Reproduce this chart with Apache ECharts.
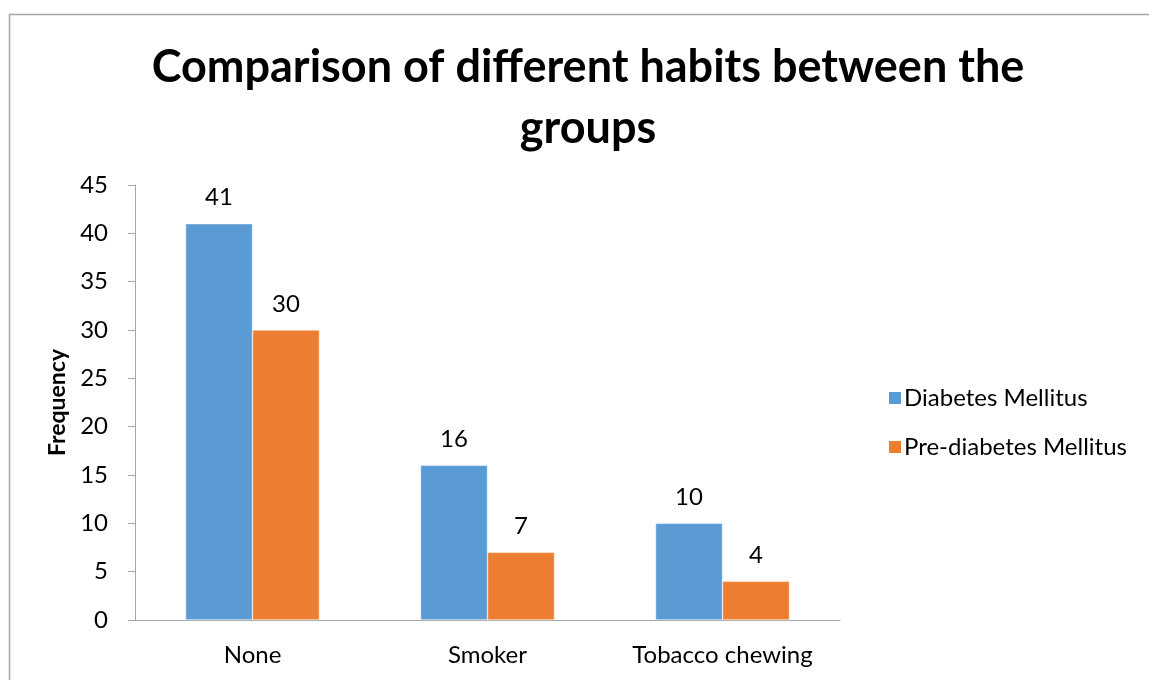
<!DOCTYPE html>
<html><head><meta charset="utf-8">
<script src="https://cdn.jsdelivr.net/npm/echarts@6/dist/echarts.min.js"></script>
<style>html,body{margin:0;padding:0;background:#fff}#c{width:1149px;height:680px}</style>
</head><body><div id="c"></div>
<script>
const categories = ['None', 'Smoker', 'Tobacco chewing'];
const diabetes = [41, 16, 10];
const prediabetes = [30, 7, 4];
const seriesNames = ['Diabetes Mellitus', 'Pre-diabetes Mellitus'];
const titleText = 'Comparison of different habits between the\ngroups';
const yAxisName = 'Frequency';

const FONT = 'Lato, "Open Sans", sans-serif';
const chart = echarts.init(document.getElementById('c'));
chart.setOption({
  animation: false,
  backgroundColor: '#fff',
  graphic: [{
    type: 'rect', shape: {x: 9.5, y: 14.5, width: 1160, height: 700},
    style: {fill: 'none', stroke: '#a6a6a6', lineWidth: 1.5}, silent: true
  }],
  title: {
    text: titleText, left: 583, top: 32, textAlign: 'center',
    textStyle: {fontFamily: FONT, fontWeight: 'bold', fontSize: 45, lineHeight: 61, color: '#000'}
  },
  legend: {
    orient: 'vertical', left: 882, top: 381, itemWidth: 14, itemHeight: 14, itemGap: 25,
    icon: 'rect',
    textStyle: {fontFamily: FONT, fontSize: 24, color: '#000', padding: [0, 0, 0, -3]},
    data: seriesNames
  },
  grid: {left: 135, right: 309, top: 185, bottom: 60},
  xAxis: {
    type: 'category', data: categories,
    axisLine: {lineStyle: {color: '#a6a6a6', width: 1}},
    axisTick: {show: false},
    axisLabel: {fontFamily: FONT, fontSize: 24, color: '#000', margin: 23}
  },
  yAxis: {
    type: 'value', min: 0, max: 45, interval: 5,
    name: yAxisName, nameLocation: 'middle', nameGap: 62, nameRotate: 90,
    nameTextStyle: {fontFamily: FONT, fontWeight: 'bold', fontSize: 23, color: '#000'},
    axisLine: {show: true, lineStyle: {color: '#a6a6a6', width: 1}},
    axisTick: {show: true, length: 7, lineStyle: {color: '#a6a6a6'}},
    splitLine: {show: false},
    axisLabel: {fontFamily: FONT, fontSize: 24, color: '#000', margin: 27}
  },
  series: [{
    name: seriesNames[0], type: 'bar', data: diabetes, barGap: '0%', barCategoryGap: '43%',
    itemStyle: {color: '#5b9bd5', borderColor: '#fff', borderWidth: 0.5},
    label: {show: true, position: 'top', distance: 14, fontFamily: FONT, fontSize: 24, color: '#000'}
  }, {
    name: seriesNames[1], type: 'bar', data: prediabetes,
    itemStyle: {color: '#ed7d31', borderColor: '#fff', borderWidth: 0.5},
    label: {show: true, position: 'top', distance: 14, fontFamily: FONT, fontSize: 24, color: '#000'}
  }]
});
</script></body></html>
